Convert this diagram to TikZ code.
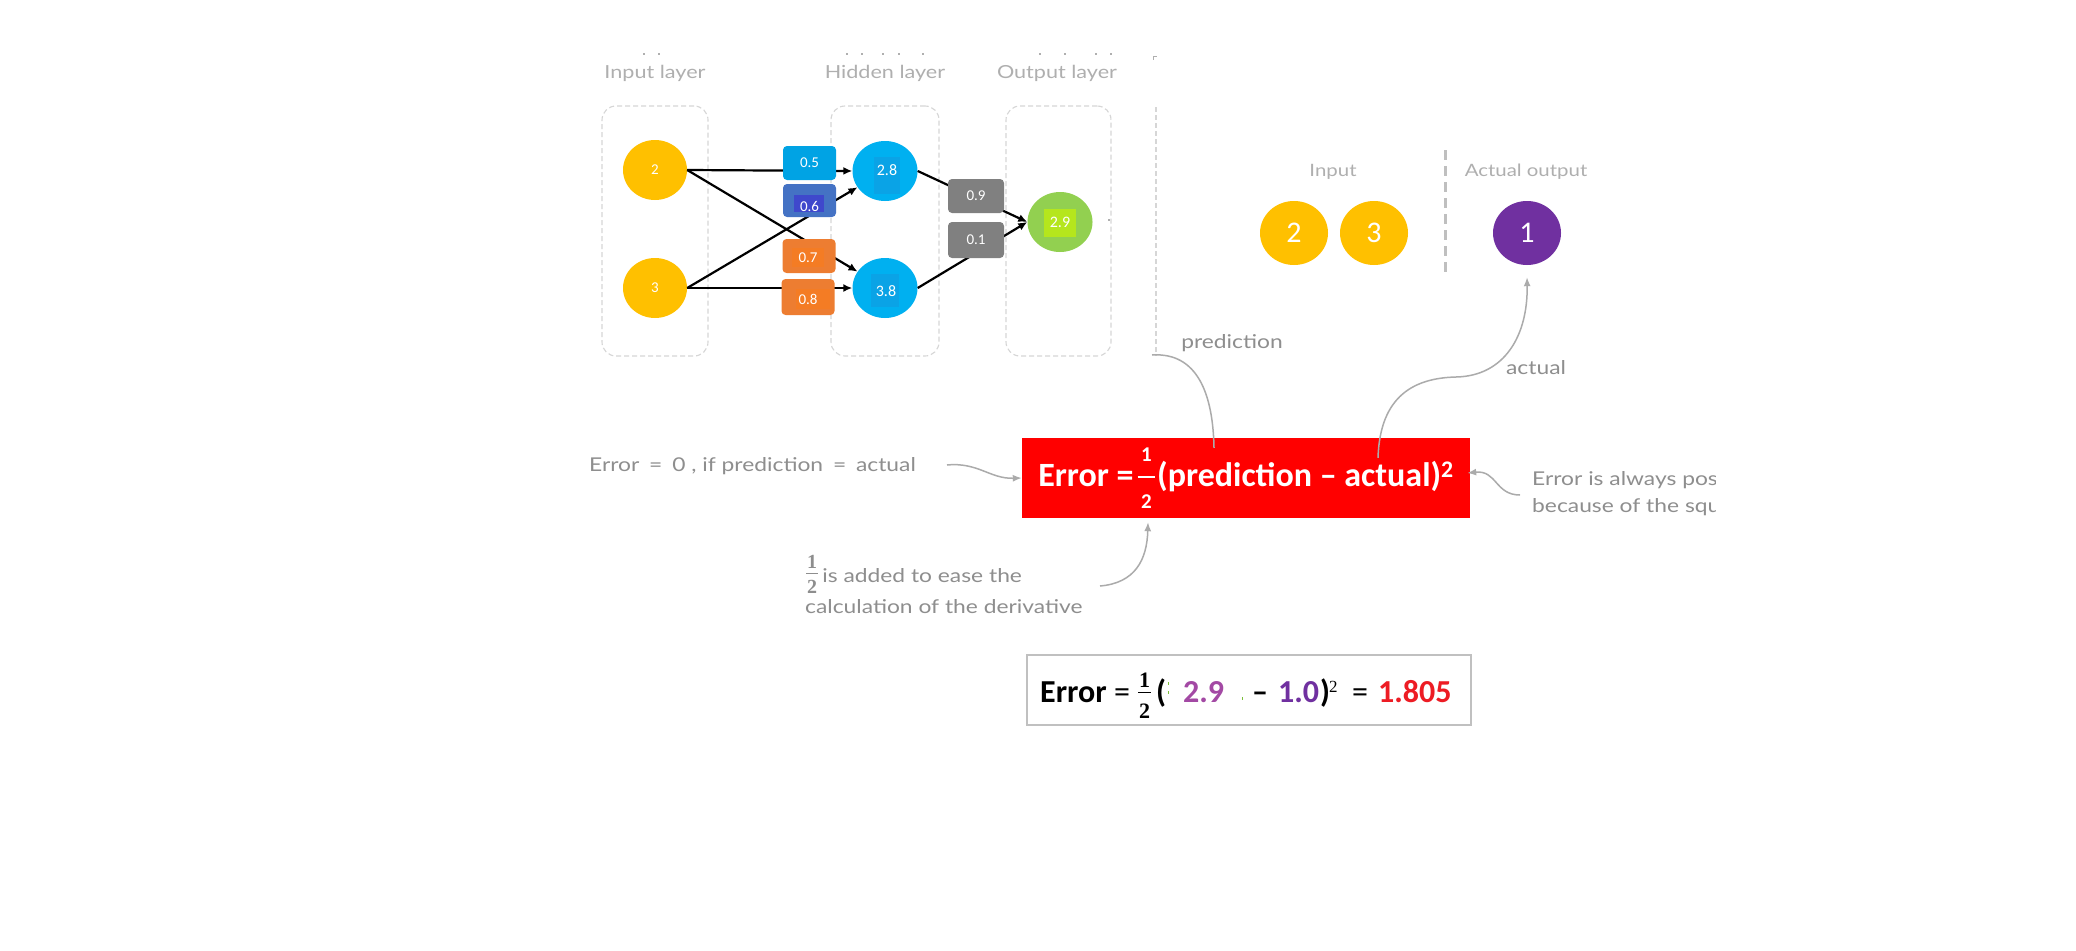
\documentclass[tikz,border=0pt]{standalone}
\usepackage{fontspec}
\setmainfont{Carlito}
\newfontfamily\handfont{Lato}[FakeStretch=1.2]
\newfontfamily\serifbold{Liberation Serif}
\usetikzlibrary{arrows.meta,shapes.geometric}
\definecolor{yel}{HTML}{FFC000}
\definecolor{nblue}{HTML}{00B0F0}
\definecolor{innerblue}{HTML}{0AA3E6}
\definecolor{ngreen}{HTML}{92D050}
\definecolor{lime}{HTML}{B5E61D}
\definecolor{wfive}{HTML}{00A3E4}
\definecolor{wsix}{HTML}{4472C4}
\definecolor{wsixin}{HTML}{3F48CC}
\definecolor{worange}{HTML}{ED7D31}
\definecolor{worangein}{HTML}{F47C24}
\definecolor{wgray}{HTML}{808080}
\definecolor{npurple}{HTML}{7030A0}
\definecolor{nmag}{HTML}{A349A4}
\definecolor{resred}{HTML}{ED1C24}
\definecolor{dashgray}{HTML}{D6D6D6}
\definecolor{divgray}{HTML}{BFBFBF}
\definecolor{lblgray}{HTML}{AFAFAF}
\definecolor{notegray}{HTML}{8E8E8E}
\definecolor{arrowgray}{HTML}{ABABAB}
\definecolor{calcgray}{HTML}{C0C0C0}
\definecolor{artgreen}{HTML}{7CBF3A}
\newcommand{\myfs}[1]{\fontsize{#1}{#1}\selectfont}
\newsavebox\fnumbox
\newsavebox\fdenbox
\newlength\fwd
% num, den, num raise, den lower, bar raise, bar thickness, extra width
\newcommand{\myfrac}[7]{%
  \sbox\fnumbox{#1}\sbox\fdenbox{#2}%
  \ifdim\wd\fnumbox>\wd\fdenbox \setlength\fwd{\wd\fnumbox}\else\setlength\fwd{\wd\fdenbox}\fi
  \addtolength\fwd{#7}%
  \kern1pt\rlap{\makebox[\fwd]{\raisebox{#3}{\usebox\fnumbox}}}%
  \rlap{\makebox[\fwd]{\raisebox{-#4}{\usebox\fdenbox}}}%
  \rlap{\rule[#5]{\fwd}{#6}}%
  \kern\fwd\kern1pt}
\begin{document}
\begin{tikzpicture}[x=1pt,y=-1pt,
  neuron/.style={ellipse,inner sep=0pt,minimum width=64pt,minimum height=60pt},
  bigneuron/.style={ellipse,inner sep=0pt,minimum width=68pt,minimum height=64pt,text=white,font=\myfs{30}},
  numtxt/.style={inner sep=0pt,text=white,font=\myfs{16}},
  wbox/.style={rectangle,rounded corners=4pt,inner sep=0pt,minimum width=53pt,minimum height=34pt,text=white,font=\myfs{15}},
  layerbox/.style={draw=dashgray,dash pattern=on 5pt off 3pt,line width=1.1pt,rounded corners=14pt,inner sep=0pt},
  conn/.style={line width=2.2pt,-{Latex[length=9pt,width=8pt]}},
  note/.style={text=notegray,font=\handfont\myfs{19},inner sep=0pt},
  lbl/.style={text=lblgray,font=\handfont\myfs{18},inner sep=0pt},
  noteline/.style={draw=arrowgray,line width=1.5pt,-{Latex[length=9pt,width=7pt]}},
  plainline/.style={draw=arrowgray,line width=1.5pt},
  piece/.style={anchor=base west,inner sep=0pt,font=\myfs{32}},
]
\useasboundingbox[fill=white] (0,0) rectangle (2076,950);

% tiny remnants at the top
\foreach \xx in {643,658,846,861,882,898,922,1039,1064,1095,1110}
  \fill[lblgray] (\xx,53) rectangle ++(2,2);
\draw[lblgray,line width=1pt] (1153,60) -- (1153,57) -- (1157,57);

% layer labels
\node[lbl] (lin) at (655,73) {Input layer};
\node[lbl] (lhid) at (885,73) {Hidden layer};
\node[lbl] (lout) at (1057,73) {Output layer};

% layer boxes
\node[layerbox,minimum width=106pt,minimum height=250pt] (boxin) at (655,231) {};
\node[layerbox,minimum width=108pt,minimum height=250pt] (boxhid) at (885,231) {};
\node[layerbox,minimum width=105pt,minimum height=250pt] (boxout) at (1058.5,231) {};
\coordinate (edgetop) at (1156,107);
\coordinate (edgebot) at (1156,356);
\draw[dashgray,dash pattern=on 5pt off 3pt,line width=1.1pt] (edgetop) -- (edgebot);

% neurons
\node[neuron,fill=yel] (in1) at (655,170) {};
\node[numtxt,font=\myfs{15}] (in1t) at (in1) {2};
\node[neuron,fill=yel] (in2) at (655,288) {};
\node[numtxt,font=\myfs{15}] (in2t) at (in2) {3};
\node[neuron,fill=nblue,minimum width=65pt] (h1) at (885,171) {};
\fill[innerblue] (874,157) rectangle (900,194);
\node[numtxt] (h1t) at (887,170) {2.8};
\node[neuron,fill=nblue,minimum width=65pt] (h2) at (885,288) {};
\fill[innerblue] (871,274) rectangle (899,307);
\node[numtxt] (h2t) at (886,291) {3.8};
\node[neuron,fill=ngreen,minimum width=65pt] (out) at (1060,222) {};
\fill[lime] (1044,209) rectangle (1076,237);
\node[numtxt] (outt) at (1060,222) {2.9};
\fill[lblgray] (1108,219) rectangle ++(1.5,2);

% connectors
\draw[conn] (in1.east) -- (h1.west);
\draw[conn] (in1.east) -- (h2);
\draw[conn] (in2.east) -- (h1);
\draw[conn] (in2.east) -- (h2.west);
\draw[conn] (h1.east) -- (out.west);
\draw[conn] (h2.east) -- (out.west);

% weights
\node[wbox,fill=wfive] (w5) at (809.5,163) {0.5};
\node[wbox,fill=wsix,minimum height=33pt] (w6) at (809.5,200.5) {};
\fill[wsixin] (794,195) rectangle (824,212);
\node[numtxt,font=\myfs{15}] (w6t) at (809.5,206) {0.6};
\node[wbox,fill=worange] (w7) at (809,256) {};
\fill[worangein] (792,248) rectangle (824,267);
\node[numtxt,font=\myfs{15}] (w7t) at (808,258) {0.7};
\node[wbox,fill=worange,minimum height=36pt] (w8) at (808,297) {};
\fill[worangein] (796,289) rectangle (830,309);
\node[numtxt,font=\myfs{15}] (w8t) at (808,299) {0.8};
\node[wbox,fill=wgray,minimum width=56pt] (w9) at (976,196) {0.9};
\node[wbox,fill=wgray,minimum width=56pt,minimum height=36pt] (w1) at (976,240) {0.1};

% right part
\node[lbl,font=\handfont\myfs{17}] (linput) at (1333,172) {Input};
\node[lbl,font=\handfont\myfs{17}] (lactual) at (1526,172) {Actual output};
\coordinate (divtop) at (1445,150);
\coordinate (divbot) at (1445,273);
\draw[divgray,line width=3pt,dash pattern=on 10pt off 6pt] (divtop) -- (divbot);
\node[bigneuron,fill=yel] (r2) at (1294,233) {2};
\node[bigneuron,fill=yel] (r3) at (1374,233) {3};
\node[bigneuron,fill=npurple] (r1) at (1527,233) {1};

% red error box
\node[fill=red,inner sep=0pt,minimum width=448pt,minimum height=80pt,text=white,font=\bfseries\myfs{34}] (errbox) at (1246,478)
  {Error =\kern3pt\myfrac{\myfs{21}1}{\myfs{21}2}{25pt}{22pt}{8pt}{2.5pt}{7pt}\kern1pt(prediction -- actual)\textsuperscript{2}};

% prediction and actual curves
\node[note] (lpred) at (1232,343) {prediction};
\node[note] (lact) at (1536,368) {actual};
\coordinate (predstart) at (1152,355);
\draw[plainline] (predstart) .. controls (1198,352) and (1213,395) .. ([xshift=-32pt,yshift=-10pt]errbox.north);
\draw[noteline] ([xshift=132pt,yshift=-20pt]errbox.north) .. controls (1380,395) and (1415,378) .. (1456,377)
  .. controls (1505,376) and (1528,335) .. ([yshift=-12pt]r1.south);

% left note
\node[note,anchor=base west] (n1) at (589,471) {Error\hspace{4pt} = \hspace{4pt}0 , if prediction\hspace{4pt} = \hspace{4pt}actual};
\coordinate (n1end) at (947,465);
\draw[noteline] (n1end) .. controls (978,462) and (990,479) .. (errbox.west);

% half note
\node[note,anchor=base west] (n2) at (805,582) {\myfrac{\serifbold\bfseries\myfs{20}1}{\serifbold\bfseries\myfs{20}2}{14pt}{11pt}{8pt}{1.5pt}{2pt}\,is added to ease the};
\node[note,anchor=base west] (n3) at (805,613) {calculation of the derivative};
\coordinate (n2end) at (1100,586);
\draw[noteline] (n2end) .. controls (1135,583) and (1147,560) .. ([xshift=-98pt,yshift=-4pt]errbox.south);

% right note (clipped)
\begin{scope}
\clip (1480,440) rectangle (1715,530);
\node[note,anchor=base west] (n4) at (1532,485) {Error is always positive};
\node[note,anchor=base west] (n5) at (1532,512) {because of the square};
\end{scope}
\coordinate (n4start) at (1520,495);
\draw[noteline] (n4start) .. controls (1495,495) and (1497,470) .. ([xshift=-3pt,yshift=5pt]errbox.east);

% calculation box
\node[draw=calcgray,line width=1.3pt,minimum width=444pt,minimum height=70pt,inner sep=0pt] (calcbox) at (1249,690) {};
\node[piece,font=\bfseries\myfs{32}] (c1) at (1040,702) {Error};
\node[piece] (c2) at (1114,702) {=};
\node[piece] (c3) at (1137,702) {\myfrac{\serifbold\bfseries\myfs{22}1}{\serifbold\bfseries\myfs{22}2}{15pt}{16pt}{9pt}{1.5pt}{2pt}};
\node[piece,font=\bfseries\myfs{32}] (c4) at (1156,702) {(};
\node[piece,font=\bfseries\myfs{32},text=nmag] (c5) at (1183,702) {2.9};
\node[piece,font=\bfseries\myfs{32}] (c6) at (1252,702) {--};
\node[piece,font=\bfseries\myfs{32},text=npurple] (c7) at (1278,702) {1.0};
\node[piece,font=\bfseries\myfs{32}] (c8) at (1320,702) {)};
\node[piece,font=\serifbold\myfs{17}] (c9) at (1329,692) {2};
\node[piece] (c10) at (1352,702) {=};
\node[piece,font=\bfseries\myfs{32},text=resred] (c11) at (1378,702) {1.805};
\fill[artgreen] (1168,682) rectangle ++(1.2,3);
\fill[artgreen] (1168,691) rectangle ++(1.2,3);
\fill[artgreen] (1242,697) rectangle ++(1.2,3);
\end{tikzpicture}
\end{document}
